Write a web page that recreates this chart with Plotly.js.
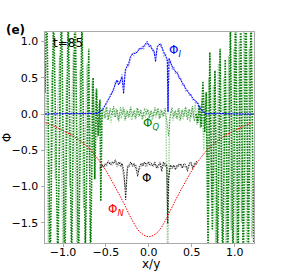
<!DOCTYPE html>
<html>
<head>
<meta charset="utf-8">
<script src="https://cdn.plot.ly/plotly-3.0.1.min.js"></script>
<style>html,body{margin:0;padding:0;background:#fff;}#chart{width:283px;height:273px;}</style>
</head>
<body>
<div id="chart"></div>
<script>
// ---- Phi_N (red) ----
const xN = [-1.2,-1.1,-1.0,-0.9,-0.8,-0.7,-0.6,-0.5,-0.4,-0.3,-0.2,-0.1,0.0,0.1,0.2,0.3,0.4,0.5,0.6,0.7,0.8,0.9,1.0,1.1,1.2];
const phiN = [-0.12,-0.17,-0.23,-0.29,-0.37,-0.47,-0.61,-0.78,-0.99,-1.21,-1.45,-1.63,-1.69,-1.63,-1.45,-1.21,-0.99,-0.78,-0.61,-0.47,-0.37,-0.29,-0.23,-0.17,-0.12];

// ---- Phi_I (blue), dark and light cuts ----
const xI = [-1.21,-1.0,-0.8,-0.66,-0.6,-0.567,-0.528,-0.489,-0.45,-0.41,-0.391,-0.372,-0.352,-0.333,-0.313,-0.294,-0.274,-0.255,-0.235,-0.215,-0.196,-0.176,-0.156,-0.137,-0.117,-0.098,-0.078,-0.059,-0.04,-0.02,0.0,0.02,0.04,0.059,0.078,0.098,0.117,0.137,0.156,0.176,0.196,0.215,0.223,0.235,0.254,0.274,0.293,0.313,0.333,0.352,0.372,0.391,0.411,0.43,0.45,0.47,0.49,0.51,0.528,0.547,0.567,0.587,0.606,0.63,0.66,0.8,1.0,1.225];
const phiI1 = [0.0,0.0,0.01,0.0,0.01,0.03,0.08,0.17,0.24,0.35,0.42,0.47,0.40,0.47,0.51,0.28,0.61,0.65,0.70,0.79,0.82,0.84,0.83,0.86,0.88,0.91,0.90,0.93,0.97,1.0,0.93,0.95,0.88,0.88,0.72,0.93,0.95,0.97,0.90,0.84,0.79,0.75,0.03,0.77,0.70,0.65,0.61,0.58,0.56,0.51,0.47,0.43,0.38,0.35,0.31,0.29,0.26,0.22,0.19,0.18,0.15,0.10,0.06,0.04,0.0,0.01,0.0,0.0];
const phiI2 = [0.0,0.01,0.0,0.01,0.0,0.04,0.10,0.14,0.27,0.31,0.45,0.43,0.46,0.42,0.55,0.38,0.58,0.68,0.66,0.75,0.84,0.80,0.86,0.84,0.91,0.88,0.93,0.90,0.95,0.97,0.96,0.91,0.90,0.84,0.80,0.90,0.97,0.93,0.92,0.80,0.82,0.71,0.0,0.72,0.73,0.62,0.64,0.55,0.59,0.48,0.50,0.40,0.40,0.32,0.33,0.26,0.28,0.20,0.21,0.14,0.17,0.07,0.09,0.02,0.01,0.0,0.01,0.0];

// ---- Phi_Q (green), dark cut: left / middle / right parts ----
const xQ1L = [-1.21,-1.19,-1.15,-1.11,-1.06,-1.02,-0.98,-0.94,-0.90,-0.86,-0.82,-0.78,-0.74,-0.70,-0.68,-0.65,-0.63,-0.61,-0.59,-0.57,-0.56,-0.545,-0.53];
const phiQ1L = [0.3,1.6,-2.2,1.5,-2.1,1.7,-2.3,1.4,-2.0,1.6,-2.2,1.3,-1.9,0.9,-2.1,0.5,-0.9,0.35,-0.3,0.2,-1.2,0.05,0.07];
const xQ1M = [-0.53,-0.51,-0.49,-0.47,-0.45,-0.43,-0.41,-0.39,-0.37,-0.35,-0.33,-0.31,-0.29,-0.27,-0.25,-0.23,-0.21,-0.19,-0.17,-0.15,-0.13,-0.11,-0.09,-0.07,-0.05,-0.03,-0.01,0.01,0.03,0.05,0.07,0.09,0.11,0.13,0.15,0.17,0.19,0.21,0.23,0.25,0.27,0.29,0.31,0.33,0.35,0.37,0.39,0.41,0.43,0.45,0.47,0.49,0.51,0.53,0.55];
const phiQ1M = [0.07,-0.06,0.10,-0.08,0.08,-0.02,0.11,-0.05,0.06,-0.10,0.09,-0.01,0.07,-0.07,0.04,-0.04,0.10,-0.03,0.05,-0.06,0.08,-0.03,0.05,-0.06,0.08,0.0,0.06,-0.05,0.04,-0.04,0.09,-0.01,0.07,-0.06,0.05,-0.03,0.08,-0.08,-0.30,-0.02,0.09,-0.04,0.05,-0.07,0.08,-0.08,0.06,-0.03,0.10,-0.08,0.07,-0.05,0.11,-0.10,0.0];
const xQ1R = [0.55,0.57,0.59,0.61,0.63,0.65,0.67,0.69,0.71,0.74,0.77,0.80,0.83,0.86,0.89,0.92,0.95,0.98,1.01,1.04,1.07,1.10,1.13,1.16,1.19,1.225];
const phiQ1R = [0.0,-0.12,0.12,-0.18,0.45,-0.25,0.3,-2.0,0.85,-1.6,0.6,-2.1,0.9,-2.2,0.75,-2.0,1.3,-2.2,1.6,-2.1,1.4,-2.3,1.7,-2.0,1.5,-2.2];

// ---- Phi_Q (green), light cut ----
const xQ2 = [-1.21,-1.20,-1.17,-1.13,-1.09,-1.04,-1.00,-0.96,-0.92,-0.88,-0.84,-0.80,-0.76,-0.72,-0.69,-0.66,-0.64,-0.62,-0.60,-0.58,-0.56,-0.545,
  -0.52,-0.50,-0.48,-0.46,-0.44,-0.42,-0.40,-0.38,-0.36,-0.34,-0.32,-0.30,-0.28,-0.26,-0.24,-0.22,-0.20,-0.18,-0.16,-0.14,-0.12,-0.10,-0.08,-0.06,-0.04,-0.02,0.0,0.02,0.04,0.06,0.08,0.10,0.12,0.14,0.16,0.18,0.20,0.22,0.24,0.26,0.28,0.30,0.32,0.34,0.36,0.38,0.40,0.42,0.44,0.46,0.48,0.50,0.52,0.54,
  0.56,0.58,0.60,0.62,0.64,0.66,0.68,0.70,0.73,0.75,0.78,0.81,0.84,0.87,0.90,0.93,0.96,0.99,1.02,1.05,1.08,1.11,1.14,1.17,1.20,1.225];
const phiQ2 = [-0.5,0.7,-1.9,0.6,-0.9,0.8,-1.95,0.5,-1.0,0.85,-1.9,0.6,-1.3,0.7,-0.8,0.45,-0.6,0.3,-0.35,0.15,-0.2,0.0,
  -0.05,0.09,-0.09,0.05,-0.12,0.07,-0.04,0.08,-0.08,0.03,-0.06,0.10,-0.09,0.06,-0.05,0.07,-0.09,0.04,-0.07,0.09,-0.04,0.06,-0.08,0.03,-0.05,0.07,-0.06,0.05,-0.08,0.04,-0.05,0.08,-0.07,0.06,-0.03,0.05,-0.06,-2.1,-0.08,0.06,-0.09,0.04,-0.06,0.07,-0.10,0.05,-0.07,0.08,-0.04,0.06,-0.11,0.09,-0.06,0.13,
  -0.15,0.15,-0.2,0.2,-0.5,0.3,-0.6,0.5,-1.2,0.4,-1.95,0.7,-1.4,0.5,-1.95,0.8,-1.6,0.9,-1.95,1.0,-1.5,1.3,-1.9,0.9,-1.7,-0.9];

// ---- Phi total (black), dark and light cuts ----
const xT = [-0.57,-0.55,-0.53,-0.51,-0.49,-0.47,-0.45,-0.43,-0.41,-0.39,-0.37,-0.35,-0.33,-0.31,-0.29,-0.27,-0.25,-0.23,-0.21,-0.19,-0.17,-0.15,-0.13,-0.11,-0.09,-0.07,-0.05,-0.03,-0.01,0.01,0.03,0.05,0.07,0.09,0.11,0.13,0.15,0.17,0.19,0.21,0.22,0.23,0.25,0.27,0.29,0.31,0.33,0.35,0.37,0.39,0.41,0.43,0.45,0.47,0.49,0.51,0.53,0.55,0.57];
const phiT1 = [-0.74,-0.72,-0.70,-0.72,-0.67,-0.66,-0.70,-0.66,-0.68,-0.63,-0.70,-0.66,-0.72,-0.68,-0.80,-1.18,-0.75,-0.70,-0.66,-0.72,-0.68,-0.75,-0.86,-0.72,-0.68,-0.72,-0.66,-0.70,-0.66,-0.70,-0.68,-0.72,-0.66,-0.75,-0.70,-0.68,-0.79,-0.66,-0.72,-0.70,-1.51,-0.90,-0.70,-0.75,-0.70,-0.77,-0.70,-0.72,-0.68,-0.75,-0.68,-0.70,-0.79,-0.68,-0.66,-0.75,-0.70,-0.66,-0.64];
const phiT2 = [-0.76,-0.70,-0.74,-0.69,-0.71,-0.64,-0.68,-0.70,-0.65,-0.67,-0.73,-0.69,-0.66,-0.74,-0.90,-1.05,-0.72,-0.73,-0.69,-0.68,-0.72,-0.70,-0.80,-0.76,-0.70,-0.67,-0.70,-0.73,-0.69,-0.66,-0.72,-0.69,-0.70,-0.71,-0.74,-0.66,-0.73,-0.70,-0.68,-0.74,-1.40,-0.85,-0.73,-0.71,-0.74,-0.72,-0.73,-0.69,-0.71,-0.72,-0.71,-0.74,-0.73,-0.71,-0.69,-0.72,-0.68,-0.69,-0.66];

const dotted = '1.5px,1.2px';
const dense = '2px,0.8px';
const traces = [
  {x: xQ2, y: phiQ2, mode: 'lines', line: {color: 'rgba(0,128,0,0.4)', width: 1.4, dash: dotted}},
  {x: xQ1L, y: phiQ1L, mode: 'lines', line: {color: '#007a00', width: 1.6, dash: dotted}},
  {x: xQ1M, y: phiQ1M, mode: 'lines', line: {color: 'rgba(0,122,0,0.75)', width: 0.9, dash: dotted}},
  {x: xQ1R, y: phiQ1R, mode: 'lines', line: {color: '#007a00', width: 1.6, dash: dotted}},
  {x: xT, y: phiT2, mode: 'lines', line: {color: 'rgba(0,0,0,0.4)', width: 1.3, dash: dotted}},
  {x: xT, y: phiT1, mode: 'lines', line: {color: '#000000', width: 0.9, dash: dotted}},
  {x: xI, y: phiI2, mode: 'lines', line: {color: 'rgba(0,0,255,0.4)', width: 1.3, dash: dotted}},
  {x: xI, y: phiI1, mode: 'lines', line: {color: '#0000ff', width: 1.0, dash: dense}},
  {x: xN, y: phiN, mode: 'lines', line: {color: '#ff0000', width: 1.0, dash: dotted, shape: 'spline'}}
];

const F = 'DejaVu Sans, sans-serif';
const layout = {
  width: 283, height: 273,
  margin: {l: 45, r: 29, t: 32, b: 30},
  paper_bgcolor: '#ffffff', plot_bgcolor: '#ffffff',
  showlegend: false,
  font: {family: F, size: 11, color: '#000'},
  xaxis: {
    range: [-1.21, 1.225], tickvals: [-1.0, -0.5, 0.0, 0.5, 1.0], ticktext: ['−1.0','−0.5','0.0','0.5','1.0'],
    showgrid: false, zeroline: false, showline: true, mirror: true, linecolor: '#aaaaaa', linewidth: 1,
    ticks: 'outside', ticklen: 3, tickcolor: '#aaaaaa', tickfont: {family: F, size: 11},
    ticklabelstandoff: -4
  },
  yaxis: {
    range: [-1.777, 1.13], tickvals: [-1.5, -1.0, -0.5, 0.0, 0.5, 1.0], ticktext: ['−1.5','−1.0','−0.5','0.0','0.5','1.0'],
    showgrid: false, zeroline: false, showline: true, mirror: true, linecolor: '#aaaaaa', linewidth: 1,
    ticks: 'outside', ticklen: 3.5, tickcolor: '#aaaaaa', tickfont: {family: F, size: 11},
    title: {text: 'Φ', font: {family: F, size: 12}, standoff: 4}
  },
  annotations: [
    {xref: 'paper', yref: 'paper', x: 0.505, y: -0.1, text: 'x/y', showarrow: false, xanchor: 'center', yanchor: 'middle', font: {family: F, size: 12, color: '#000'}},
    {xref: 'paper', yref: 'paper', x: -0.14, y: 1.01, text: '<b>(e)</b>', showarrow: false, xanchor: 'center', yanchor: 'middle', font: {family: F, size: 12, color: '#000'}},
    {x: -0.94, y: 0.98, text: 't=85', showarrow: false, font: {family: F, size: 12, color: '#000'}},
    {x: 0.31, y: 0.87, text: 'Φ<sub><i>I</i></sub>', showarrow: false, font: {family: F, size: 12, color: '#0000ff'}},
    {x: 0.02, y: -0.14, text: 'Φ<sub><i>Q</i></sub>', showarrow: false, font: {family: F, size: 12, color: '#008000'}},
    {x: -0.03, y: -0.88, text: 'Φ', showarrow: false, font: {family: F, size: 12, color: '#000'}},
    {x: -0.38, y: -1.32, text: 'Φ<sub><i>N</i></sub>', showarrow: false, font: {family: F, size: 12, color: '#ff0000'}}
  ]
};
Plotly.newPlot('chart', traces, layout, {staticPlot: true, displayModeBar: false});
</script>
</body>
</html>
